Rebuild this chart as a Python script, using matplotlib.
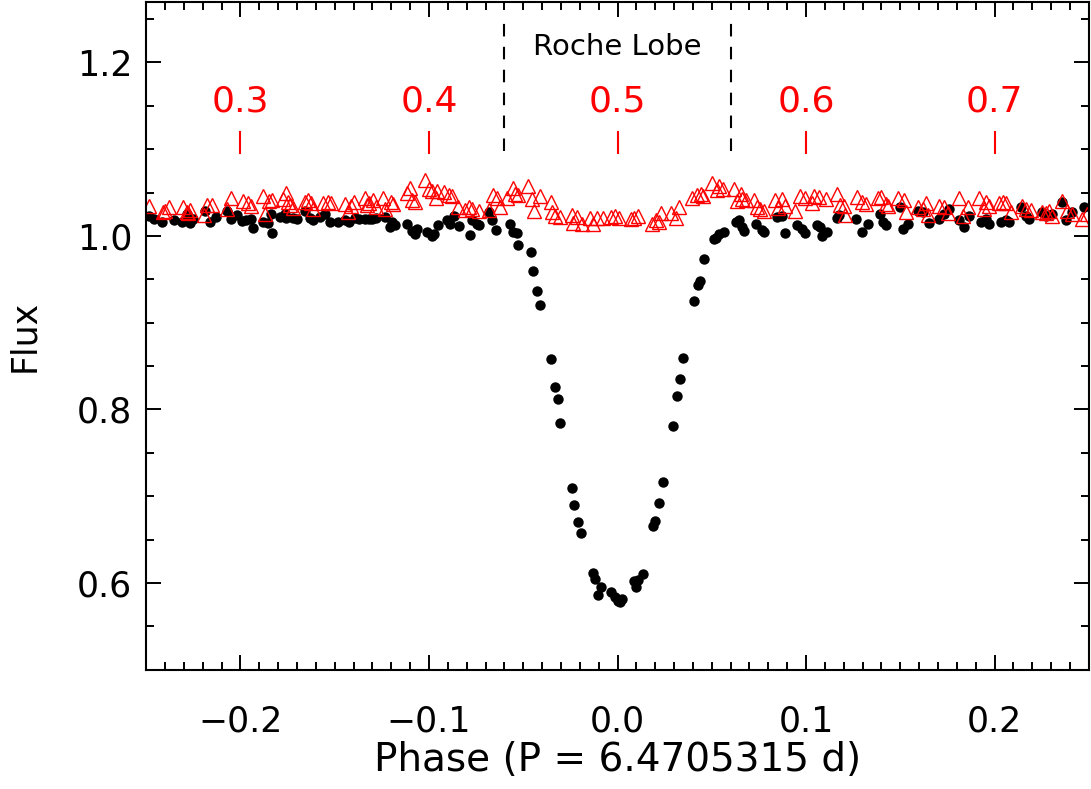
import matplotlib
matplotlib.use('Agg')

import matplotlib.pyplot as plt
import numpy as np
from matplotlib.ticker import MultipleLocator, FuncFormatter

# black points: observed flux vs phase
black_phase = [-0.2483, -0.2460, -0.2418, -0.2350, -0.2312, -0.2286, -0.2268, -0.2250, -0.2189, -0.2162,
               -0.2130, -0.2074, -0.2048, -0.2020, -0.1990, -0.1968, -0.1942, -0.1933, -0.1880, -0.1854,
               -0.1836, -0.1831, -0.1790, -0.1765, -0.1757, -0.1721, -0.1700, -0.1660, -0.1633, -0.1616,
               -0.1580, -0.1554, -0.1527, -0.1480, -0.1448, -0.1422, -0.1395, -0.1370, -0.1340, -0.1316,
               -0.1300, -0.1280, -0.1231, -0.1205, -0.1196, -0.1178, -0.1116, -0.1090, -0.1072, -0.1063,
               -0.1011, -0.0984, -0.0975, -0.0952, -0.0905, -0.0887, -0.0869, -0.0843, -0.0781, -0.0772,
               -0.0746, -0.0737, -0.0684, -0.0667, -0.0646, -0.0570, -0.0552, -0.0533, -0.0526, -0.0460,
               -0.0448, -0.0427, -0.0413, -0.0353, -0.0333, -0.0317, -0.0307, -0.0243, -0.0229, -0.0208,
               -0.0196, -0.0131, -0.0120, -0.0102, -0.0086, -0.0035, -0.0014, 0.0002, 0.0011, 0.0025,
               0.0090, 0.0099, 0.0109, 0.0134, 0.0190, 0.0201, 0.0222, 0.0242, 0.0295, 0.0316,
               0.0332, 0.0349, 0.0407, 0.0425, 0.0437, 0.0460, 0.0510, 0.0520, 0.0538, 0.0564,
               0.0626, 0.0644, 0.0661, 0.0670, 0.0732, 0.0767, 0.0776, 0.0847, 0.0873, 0.0891,
               0.0952, 0.0979, 0.0996, 0.1058, 0.1076, 0.1085, 0.1111, 0.1164, 0.1173, 0.1266,
               0.1298, 0.1328, 0.1390, 0.1407, 0.1425, 0.1496, 0.1513, 0.1540, 0.1593, 0.1619,
               0.1654, 0.1707, 0.1734, 0.1760, 0.1813, 0.1840, 0.1866, 0.1928, 0.1954, 0.1972,
               0.2033, 0.2060, 0.2078, 0.2139, 0.2166, 0.2184, 0.2254, 0.2271, 0.2307, 0.2360,
               0.2377, 0.2413, 0.2474]
black_flux = [1.023, 1.020, 1.016, 1.018, 1.016, 1.025, 1.015, 1.020, 1.029, 1.016,
              1.022, 1.029, 1.020, 1.024, 1.017, 1.018, 1.020, 1.009, 1.016, 1.015,
              1.025, 1.003, 1.022, 1.025, 1.021, 1.021, 1.020, 1.029, 1.021, 1.018,
              1.022, 1.025, 1.016, 1.016, 1.018, 1.016, 1.021, 1.020, 1.019, 1.020,
              1.020, 1.021, 1.022, 1.010, 1.016, 1.012, 1.014, 1.006, 1.002, 1.008,
              1.005, 1.000, 1.002, 1.013, 1.018, 1.014, 1.023, 1.011, 1.001, 1.018,
              1.014, 1.012, 1.027, 1.018, 1.007, 1.014, 1.004, 1.003, 0.990, 0.982,
              0.959, 0.936, 0.920, 0.858, 0.826, 0.812, 0.785, 0.710, 0.690, 0.670,
              0.658, 0.612, 0.605, 0.586, 0.595, 0.590, 0.584, 0.579, 0.578, 0.582,
              0.602, 0.595, 0.603, 0.611, 0.666, 0.671, 0.692, 0.716, 0.781, 0.815,
              0.835, 0.859, 0.925, 0.944, 0.948, 0.973, 0.997, 0.998, 1.002, 1.005,
              1.016, 1.018, 1.010, 1.006, 1.014, 1.007, 1.004, 1.022, 1.023, 1.003,
              1.013, 1.008, 1.003, 1.012, 1.010, 1.000, 1.004, 1.021, 1.024, 1.020,
              1.004, 1.014, 1.025, 1.016, 1.012, 1.033, 1.008, 1.014, 1.029, 1.027,
              1.015, 1.020, 1.025, 1.031, 1.018, 1.010, 1.023, 1.016, 1.020, 1.014,
              1.016, 1.018, 1.016, 1.033, 1.023, 1.020, 1.027, 1.023, 1.025, 1.039,
              1.018, 1.027, 1.033]

# red triangles: second light curve
red_phase = [-0.2483, -0.2413, -0.2400, -0.2377, -0.2303, -0.2286, -0.2277, -0.2265, -0.2194, -0.2176,
             -0.2153, -0.2074, -0.2048, -0.1986, -0.1959, -0.1942, -0.1880, -0.1871, -0.1848, -0.1831,
             -0.1774, -0.1760, -0.1748, -0.1735, -0.1721, -0.1660, -0.1642, -0.1624, -0.1616, -0.1563,
             -0.1536, -0.1519, -0.1448, -0.1430, -0.1413, -0.1400, -0.1342, -0.1330, -0.1316, -0.1298,
             -0.1280, -0.1245, -0.1231, -0.1199, -0.1192, -0.1116, -0.1099, -0.1090, -0.1072, -0.1019,
             -0.1002, -0.0984, -0.0963, -0.0958, -0.0922, -0.0896, -0.0878, -0.0847, -0.0808, -0.0790,
             -0.0772, -0.0737, -0.0684, -0.0658, -0.0640, -0.0623, -0.0587, -0.0552, -0.0543, -0.0526,
             -0.0473, -0.0455, -0.0441, -0.0411, -0.0353, -0.0349, -0.0332, -0.0305, -0.0243, -0.0235,
             -0.0217, -0.0190, -0.0146, -0.0129, -0.0111, -0.0076, -0.0032, -0.0014, 0.0009, 0.0071,
             0.0088, 0.0109, 0.0185, 0.0203, 0.0220, 0.0233, 0.0282, 0.0309, 0.0326, 0.0397,
             0.0423, 0.0441, 0.0455, 0.0503, 0.0529, 0.0538, 0.0561, 0.0617, 0.0635, 0.0653,
             0.0661, 0.0679, 0.0723, 0.0741, 0.0758, 0.0776, 0.0838, 0.0850, 0.0873, 0.0891,
             0.0944, 0.0966, 0.0996, 0.1032, 0.1044, 0.1067, 0.1108, 0.1164, 0.1178, 0.1199,
             0.1208, 0.1270, 0.1298, 0.1316, 0.1381, 0.1399, 0.1425, 0.1434, 0.1487, 0.1522,
             0.1531, 0.1593, 0.1619, 0.1637, 0.1646, 0.1704, 0.1734, 0.1751, 0.1813, 0.1831,
             0.1857, 0.1915, 0.1945, 0.1954, 0.1972, 0.2025, 0.2046, 0.2060, 0.2086, 0.2148,
             0.2166, 0.2192, 0.2254, 0.2271, 0.2289, 0.2307, 0.2360, 0.2386, 0.2409, 0.2466,
             0.2492]
red_flux = [1.034, 1.027, 1.029, 1.033, 1.033, 1.028, 1.026, 1.030, 1.024, 1.036,
            1.036, 1.031, 1.044, 1.040, 1.038, 1.034, 1.046, 1.025, 1.040, 1.041,
            1.043, 1.049, 1.039, 1.036, 1.032, 1.039, 1.041, 1.038, 1.031, 1.038,
            1.039, 1.038, 1.037, 1.028, 1.035, 1.039, 1.044, 1.036, 1.038, 1.041,
            1.033, 1.044, 1.031, 1.039, 1.037, 1.050, 1.055, 1.041, 1.039, 1.064,
            1.054, 1.052, 1.044, 1.052, 1.051, 1.047, 1.046, 1.033, 1.030, 1.033,
            1.031, 1.029, 1.030, 1.047, 1.044, 1.033, 1.044, 1.055, 1.048, 1.047,
            1.058, 1.043, 1.029, 1.046, 1.039, 1.028, 1.023, 1.022, 1.024, 1.015,
            1.022, 1.014, 1.021, 1.014, 1.021, 1.021, 1.022, 1.023, 1.021, 1.020,
            1.021, 1.023, 1.014, 1.018, 1.016, 1.026, 1.026, 1.021, 1.033, 1.044,
            1.047, 1.048, 1.046, 1.061, 1.053, 1.057, 1.054, 1.054, 1.040, 1.048,
            1.043, 1.041, 1.041, 1.033, 1.031, 1.029, 1.041, 1.032, 1.043, 1.034,
            1.029, 1.046, 1.044, 1.038, 1.046, 1.045, 1.043, 1.048, 1.036, 1.035,
            1.024, 1.045, 1.039, 1.037, 1.044, 1.045, 1.037, 1.034, 1.044, 1.041,
            1.027, 1.033, 1.031, 1.038, 1.024, 1.034, 1.033, 1.026, 1.044, 1.023,
            1.033, 1.044, 1.031, 1.039, 1.034, 1.038, 1.039, 1.038, 1.027, 1.035,
            1.031, 1.030, 1.028, 1.026, 1.029, 1.023, 1.040, 1.029, 1.025, 1.020,
            1.025]

# orbital phase markers along the top
orb_pos = [-0.2, -0.1, 0.0, 0.1, 0.2]
orb_labels = ['0.3', '0.4', '0.5', '0.6', '0.7']
roche_edges = [-0.06, 0.06]


def fmt(v, pos):
    s = '%.1f' % v
    if s == '-0.0':
        s = '0.0'
    return s.replace('-', '\u2212')


fig = plt.figure(figsize=(10.91, 7.89), dpi=100)
ax = fig.add_axes([0.134, 0.151, 0.864, 0.847])

ax.plot(black_phase, black_flux, 'o', color='black', markersize=7.5, markeredgewidth=0)
ax.plot(red_phase, red_flux, '^', markerfacecolor='none', markeredgecolor='red',
        markersize=9.5, markeredgewidth=1.0)

# roche lobe limits
for xe in roche_edges:
    ax.plot([xe, xe], [1.098, 1.25], color='black', lw=1.5, dashes=(6, 5))
ax.text(0.0, 1.218, 'Roche Lobe', ha='center', va='center', fontsize=21)

for xp, lab in zip(orb_pos, orb_labels):
    ax.plot([xp, xp], [1.096, 1.12], color='red', lw=1.5)
    ax.text(xp, 1.155, lab, color='red', ha='center', va='center', fontsize=26)

ax.set_xlim(-0.25, 0.25)
ax.set_ylim(0.5, 1.27)

ax.xaxis.set_major_locator(MultipleLocator(0.1))
ax.xaxis.set_minor_locator(MultipleLocator(0.01))
ax.yaxis.set_major_locator(MultipleLocator(0.2))
ax.yaxis.set_minor_locator(MultipleLocator(0.05))
ax.xaxis.set_major_formatter(FuncFormatter(fmt))
ax.yaxis.set_major_formatter(FuncFormatter(fmt))

ax.tick_params(which='both', direction='in', top=True, right=True, width=1.4)
ax.tick_params(which='major', length=11, labelsize=25)
ax.tick_params(axis='x', which='major', pad=25)
ax.tick_params(axis='y', which='major', pad=10)
ax.tick_params(which='minor', length=5.5)
for sp in ax.spines.values():
    sp.set_linewidth(1.5)

ax.set_xlabel('Phase (P = 6.4705315 d)', fontsize=28, labelpad=2)
ax.set_ylabel('Flux', fontsize=25, labelpad=26)

fig.savefig('out.png', dpi=100)
